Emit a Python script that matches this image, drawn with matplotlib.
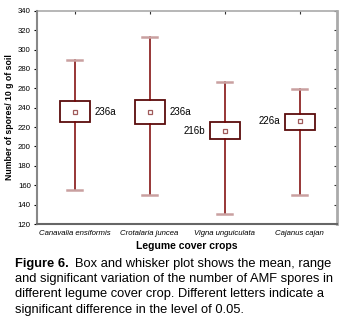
import numpy as np
import matplotlib.pyplot as plt

crops = ['Canavalia ensiformis', 'Crotalaria juncea', 'Vigna unguiculata', 'Cajanus cajan']
means = [236, 236, 216, 226]
box_low = [225, 223, 208, 217]
box_high = [247, 248, 225, 234]
range_low = [155, 150, 130, 150]
range_high = [289, 313, 267, 259]
labels = ['236a', '236a', '216b', '226a']
label_side = ['right', 'right', 'left', 'left']

caption_head = "Figure 6."
caption_lines = ["Box and whisker plot shows the mean, range",
                 "and significant variation of the number of AMF spores in",
                 "different legume cover crop. Different letters indicate a",
                 "significant difference in the level of 0.05."]

plt.rcParams['font.family'] = ['Liberation Sans', 'DejaVu Sans']

fig = plt.figure(figsize=(3.5, 3.23), dpi=100)
ax = fig.add_axes([0.106, 0.3065, 0.857, 0.66])

stats = []
for i in range(len(crops)):
    stats.append(dict(med=means[i], q1=box_low[i], q3=box_high[i],
                      whislo=range_low[i], whishi=range_high[i],
                      mean=means[i], fliers=[], label=crops[i]))

ax.bxp(stats, positions=range(len(crops)), widths=0.4, showmeans=True,
       showfliers=False, patch_artist=True,
       boxprops=dict(facecolor='white', edgecolor='#5a0c0c', linewidth=1.3),
       whiskerprops=dict(color='#7a0000', linewidth=1.1),
       capprops=dict(color='#c9a0a0', linewidth=1.8),
       medianprops=dict(linewidth=0),
       meanprops=dict(marker='s', markersize=3.2, markerfacecolor='white',
                      markeredgecolor='#a05a5a', markeredgewidth=0.9),
       capwidths=0.19)

for i in range(len(crops)):
    if label_side[i] == 'right':
        ax.text(i + 0.26, means[i], labels[i], ha='left', va='center', fontsize=7)
    else:
        ax.text(i - 0.26, means[i], labels[i], ha='right', va='center', fontsize=7)

ax.set_xlim(-0.5, 3.5)
ax.set_ylim(120, 340)
ax.set_yticks(np.arange(120, 341, 20))
ax.set_xticks(range(len(crops)))
ax.set_xticklabels(crops, fontsize=5.6, style='italic')
ax.tick_params(axis='y', labelsize=5.6, length=2.5, width=0.8, direction='out', pad=2)
ax.tick_params(axis='x', length=0, pad=4)

# ticks on right and top drawn inward
ax_r = ax.secondary_yaxis('right')
ax_r.set_yticks(np.arange(120, 341, 20))
ax_r.tick_params(direction='in', length=2.5, labelright=False, color='#333333')
ax_r.spines['right'].set_color('#aaaaaa')
ax_r.spines['right'].set_linewidth(2)
ax_t = ax.secondary_xaxis('top')
ax_t.set_xticks(range(len(crops)))
ax_t.tick_params(direction='in', length=2.5, labeltop=False, color='#333333')
ax_t.spines['top'].set_color('#aaaaaa')
ax_t.spines['top'].set_linewidth(1.2)

ax.spines['left'].set_color('#888888')
ax.spines['left'].set_linewidth(1.5)
ax.spines['bottom'].set_color('#666666')
ax.spines['bottom'].set_linewidth(1.5)
ax.spines['top'].set_visible(False)
ax.spines['right'].set_visible(False)

ax.set_ylabel('Number of spores/ 10 g of soil', fontsize=6.3, fontweight='bold', labelpad=3)
ax.set_xlabel('Legume cover crops', fontsize=7.5, fontweight='bold', labelpad=3)

# caption: bold head, then regular text
cap_size = 9.3
line_h = 15.2 / 323
y0 = 1 - 264 / 323
head = fig.text(15 / 350, y0, caption_head, fontsize=cap_size, fontweight='bold',
                va='center', ha='left')
fig.canvas.draw()
bb = head.get_window_extent().transformed(fig.transFigure.inverted())
fig.text(bb.x1 + 6 / 350, y0, caption_lines[0], fontsize=cap_size, va='center', ha='left')
for k, line in enumerate(caption_lines[1:]):
    fig.text(15 / 350, y0 - (k + 1) * line_h, line, fontsize=cap_size,
             va='center', ha='left')

fig.savefig('out.png', dpi=100)
